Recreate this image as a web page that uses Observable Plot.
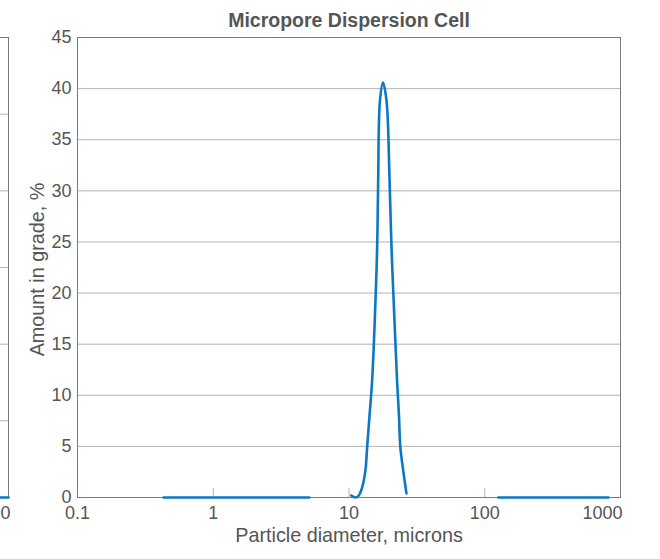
<!DOCTYPE html>
<html>
<head>
<meta charset="utf-8">
<script src="https://cdn.jsdelivr.net/npm/d3@7"></script>
<script src="https://cdn.jsdelivr.net/npm/@observablehq/plot@0.6"></script>
<style>
  body { margin: 0; background: white; }
  #wrap { position: relative; width: 660px; height: 559px; overflow: hidden; }
  #wrap svg { position: absolute; top: 0; }
</style>
</head>
<body>
<div id="wrap"></div>
<script>
// ---- data ----
const title = "Micropore Dispersion Cell";
const xLabel = "Particle diameter, microns";
const yLabel = "Amount in grade, %";
const xTicks = [0.1, 1, 10, 100, 1000];
const yTicks = [0, 5, 10, 15, 20, 25, 30, 35, 40, 45];

// flat zero segment, small sizes
const lowSizes = [0.43, 5.1];
const lowAmounts = [0, 0];
// main peak
const peakSizes   = [10.4, 11.2, 11.8, 12.5, 13.2, 13.6, 14.2, 14.8, 15.5, 16.1, 16.4, 16.9, 17.8, 18.9, 19.9, 20.6, 21.6, 22.6, 23.3, 23.9, 25.1, 26.5];
const peakAmounts = [0.2,  0,    0.2,  1.0,  2.6,  4.9,  8.2,  11.4, 17.5, 24.2, 31.0, 38.8, 40.6, 38.8, 31.0, 24.2, 17.5, 11.4, 8.2,  4.9,  2.6,  0.4];
// flat zero segment, large sizes
const highSizes = [126, 815];
const highAmounts = [0, 0];

// neighbouring (cropped) chart at the left edge
const nbSizes = [130, 1000];
const nbAmounts = [0, 0];
const nbYTicks = [0, 5, 10, 15, 20, 25, 30];

// ---- styling ----
const FONT = "'Liberation Sans', Arial, Helvetica, sans-serif";
const TEXT = "#555";
const GRID = "#b4b4b4";
const FRAME = "#7a7a7a";
const BLUE = "#0b78c4";

const toRows = (xs, ys, seg) => xs.map((x, i) => ({size: x, amount: ys[i], seg}));

function chart({series, yDomain, yT, showText}) {
  const marks = [
    Plot.gridY(yT, {stroke: GRID, strokeOpacity: 1}),
    Plot.ruleX(xTicks.slice(1, -1), {insetTop: 451, stroke: GRID, strokeOpacity: 1}),
    Plot.frame({stroke: FRAME}),
    Plot.text(xTicks.slice(0, -1), {x: d => d, frameAnchor: "bottom", dy: 21, text: d => String(d), fontSize: 18, fill: TEXT}),
    Plot.text(xTicks.slice(-1), {x: d => d, frameAnchor: "bottom", dy: 21, dx: 2, textAnchor: "end", text: d => String(d), fontSize: 18, fill: TEXT})
  ];
  if (showText) {
    marks.push(
      Plot.axisY(yT, {tickSize: 0, tickPadding: 6, fontSize: 18, fill: TEXT, label: null}),
      Plot.text([xLabel], {frameAnchor: "bottom", dy: 44, text: d => d, fontSize: 19.8, fill: TEXT}),
      Plot.text([yLabel], {frameAnchor: "left", dx: -40, dy: 2, rotate: -90, textAnchor: "middle", text: d => d, fontSize: 19.8, fill: TEXT}),
      Plot.text([title], {frameAnchor: "top", dy: -24, text: d => d, fontSize: 19.5, fontWeight: "bold", fill: TEXT})
    );
  } else {
    marks.push(Plot.axisY(yT, {tickSize: 0, text: null, label: null}));
  }
  series.forEach(rows => marks.push(
    Plot.line(rows, {x: "size", y: "amount", stroke: BLUE, strokeWidth: 2.6, curve: "catmull-rom"})
  ));
  return Plot.plot({
    width: 660, height: 559,
    marginLeft: 77, marginRight: 40, marginTop: 37, marginBottom: 62,
    style: {background: "transparent", fontFamily: FONT, overflow: "visible"},
    x: {type: "log", domain: [0.1, 1000], axis: null},
    y: {domain: yDomain},
    marks
  });
}

const wrap = document.getElementById("wrap");
const nb = chart({series: [toRows(nbSizes, nbAmounts, "nb")], yDomain: [0, 30], yT: nbYTicks, showText: false});
nb.style.left = "-612px";
wrap.appendChild(nb);
const main = chart({
  series: [toRows(lowSizes, lowAmounts, "low"), toRows(peakSizes, peakAmounts, "peak"), toRows(highSizes, highAmounts, "high")],
  yDomain: [0, 45], yT: yTicks, showText: true
});
main.style.left = "0px";
wrap.appendChild(main);
</script>
</body>
</html>
